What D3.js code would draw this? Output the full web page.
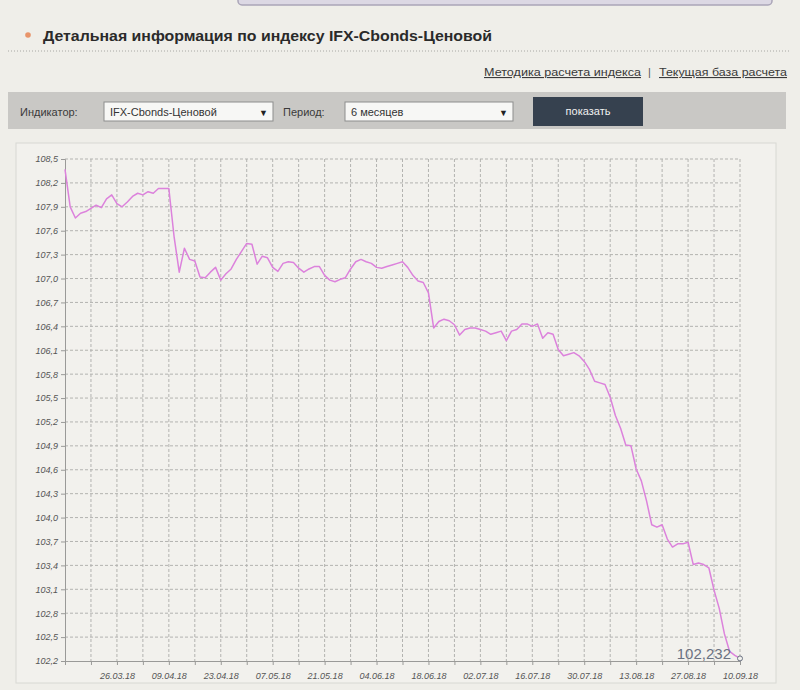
<!DOCTYPE html>
<html><head><meta charset="utf-8">
<script src="https://cdn.jsdelivr.net/npm/d3@7"></script>
<style>
html,body{margin:0;padding:0;background:#efeee9;}
svg{display:block;font-family:"Liberation Sans",Arial,sans-serif;}
</style></head>
<body>
<svg id="c" width="800" height="690"></svg>
<script>
// ---- data ----
const dates = [
 "12.03.18","13.03.18","14.03.18","15.03.18","16.03.18",
 "19.03.18","20.03.18","21.03.18","22.03.18","23.03.18",
 "26.03.18","27.03.18","28.03.18","29.03.18","30.03.18",
 "02.04.18","03.04.18","04.04.18","05.04.18","06.04.18",
 "09.04.18","10.04.18","11.04.18","12.04.18","13.04.18",
 "16.04.18","17.04.18","18.04.18","19.04.18","20.04.18",
 "23.04.18","24.04.18","25.04.18","26.04.18","27.04.18",
 "30.04.18","01.05.18","02.05.18","03.05.18","04.05.18",
 "07.05.18","08.05.18","09.05.18","10.05.18","11.05.18",
 "14.05.18","15.05.18","16.05.18","17.05.18","18.05.18",
 "21.05.18","22.05.18","23.05.18","24.05.18","25.05.18",
 "28.05.18","29.05.18","30.05.18","31.05.18","01.06.18",
 "04.06.18","05.06.18","06.06.18","07.06.18","08.06.18",
 "11.06.18","12.06.18","13.06.18","14.06.18","15.06.18",
 "18.06.18","19.06.18","20.06.18","21.06.18","22.06.18",
 "25.06.18","26.06.18","27.06.18","28.06.18","29.06.18",
 "02.07.18","03.07.18","04.07.18","05.07.18","06.07.18",
 "09.07.18","10.07.18","11.07.18","12.07.18","13.07.18",
 "16.07.18","17.07.18","18.07.18","19.07.18","20.07.18",
 "23.07.18","24.07.18","25.07.18","26.07.18","27.07.18",
 "30.07.18","31.07.18","01.08.18","02.08.18","03.08.18",
 "06.08.18","07.08.18","08.08.18","09.08.18","10.08.18",
 "13.08.18","14.08.18","15.08.18","16.08.18","17.08.18",
 "20.08.18","21.08.18","22.08.18","23.08.18","24.08.18",
 "27.08.18","28.08.18","29.08.18","30.08.18","31.08.18",
 "03.09.18","04.09.18","05.09.18","06.09.18","07.09.18",
 "10.09.18"
];
const values = [
 108.37,107.90,107.76,107.82,107.84,
 107.88,107.92,107.89,108.00,108.05,
 107.94,107.90,107.96,108.03,108.07,
 108.05,108.09,108.07,108.13,108.13,
 108.13,107.53,107.08,107.38,107.24,
 107.22,107.02,107.01,107.08,107.14,
 106.98,107.06,107.12,107.24,107.34,
 107.44,107.43,107.18,107.28,107.26,
 107.14,107.09,107.19,107.21,107.20,
 107.13,107.08,107.12,107.15,107.15,
 107.04,106.98,106.96,106.99,107.01,
 107.12,107.21,107.24,107.21,107.19,
 107.14,107.13,107.15,107.17,107.19,
 107.21,107.14,107.04,106.97,106.95,
 106.82,106.38,106.46,106.49,106.47,
 106.42,106.29,106.36,106.38,106.38,
 106.36,106.34,106.30,106.32,106.34,
 106.22,106.34,106.36,106.43,106.43,
 106.40,106.43,106.25,106.32,106.30,
 106.11,106.03,106.05,106.07,106.03,
 105.96,105.86,105.71,105.69,105.67,
 105.51,105.28,105.12,104.91,104.90,
 104.61,104.46,104.21,103.91,103.88,
 103.91,103.73,103.63,103.67,103.67,
 103.69,103.41,103.43,103.41,103.37,
 103.09,102.86,102.54,102.32,102.27,
 102.232
];
const xTickLabels = ["26.03.18","09.04.18","23.04.18","07.05.18","21.05.18","04.06.18","18.06.18","02.07.18","16.07.18","30.07.18","13.08.18","27.08.18","10.09.18"];
const yTicks = [108.5,108.2,107.9,107.6,107.3,107.0,106.7,106.4,106.1,105.8,105.5,105.2,104.9,104.6,104.3,104.0,103.7,103.4,103.1,102.8,102.5,102.2];
const lastLabel = "102,232";
const title = "Детальная информация по индексу IFX-Cbonds-Ценовой";

const svg = d3.select("#c");

// top box remnant
svg.append("rect").attr("x",238).attr("y",-12).attr("width",534).attr("height",17).attr("rx",4)
  .attr("fill","#dcd8e4").attr("stroke","#aaa5b8").attr("stroke-width",1.5);

// title
svg.append("circle").attr("cx",28).attr("cy",35).attr("r",2.8).attr("fill","#e8946a");
svg.append("text").attr("x",43).attr("y",41).attr("font-size",15).attr("font-weight","bold")
  .attr("fill","#2a2a2a").attr("textLength",449).attr("lengthAdjust","spacingAndGlyphs").text(title);
svg.append("line").attr("x1",8).attr("x2",790).attr("y1",51).attr("y2",51)
  .attr("stroke","#a8a8a4").attr("stroke-dasharray","1,2");

// links
svg.append("text").attr("x",484).attr("y",76).attr("font-size",11).attr("fill","#3a3a3a")
  .attr("text-decoration","underline").attr("textLength",157).attr("lengthAdjust","spacingAndGlyphs").text("Методика расчета индекса");
svg.append("text").attr("x",648).attr("y",76).attr("font-size",11).attr("fill","#555").text("|");
svg.append("text").attr("x",659).attr("y",76).attr("font-size",11).attr("fill","#3a3a3a")
  .attr("text-decoration","underline").attr("textLength",128).attr("lengthAdjust","spacingAndGlyphs").text("Текущая база расчета");

// control bar
svg.append("rect").attr("x",8).attr("y",92).attr("width",778).attr("height",37).attr("fill","#c9c8c5");
svg.append("text").attr("x",20).attr("y",116).attr("font-size",11).attr("fill","#3a3a3a").text("Индикатор:");
svg.append("rect").attr("x",104).attr("y",102).attr("width",169).attr("height",19).attr("fill","#f7f7f5").attr("stroke","#8d8d8d");
svg.append("text").attr("x",110).attr("y",116).attr("font-size",11).attr("fill","#333").text("IFX-Cbonds-Ценовой");
svg.append("text").attr("x",259).attr("y",116).attr("font-size",9).attr("fill","#222").text("▼");
svg.append("text").attr("x",283).attr("y",116).attr("font-size",11).attr("fill","#3a3a3a").text("Период:");
svg.append("rect").attr("x",345).attr("y",102).attr("width",168).attr("height",19).attr("fill","#f7f7f5").attr("stroke","#8d8d8d");
svg.append("text").attr("x",351).attr("y",116).attr("font-size",11).attr("fill","#333").text("6 месяцев");
svg.append("text").attr("x",499).attr("y",116).attr("font-size",9).attr("fill","#222").text("▼");
svg.append("rect").attr("x",533).attr("y",97).attr("width",110).attr("height",29).attr("fill","#36414f");
svg.append("text").attr("x",588).attr("y",115).attr("text-anchor","middle").attr("font-size",11).attr("fill","#f0f0f0").text("показать");

// chart frame
svg.append("rect").attr("x",16).attr("y",143).attr("width",760).attr("height",540).attr("fill","#f2f1ed").attr("stroke","#d8d8d3");

// plot
const m = {left:65, right:740, top:159, bottom:661};
const x = d3.scaleLinear().domain([0, dates.length-1]).range([m.left, m.right]);
const y = d3.scaleLinear().domain([102.2, 108.5]).range([m.bottom, m.top]);

const g = svg.append("g");
// vertical grid every 5 points
const gridIdx = d3.range(0, dates.length, 5);
g.selectAll(".vg").data(gridIdx.slice(1)).join("line")
  .attr("x1",d=>x(d)).attr("x2",d=>x(d)).attr("y1",m.top).attr("y2",m.bottom)
  .attr("stroke","#b3b3b0").attr("stroke-dasharray","3,2").attr("stroke-width",1);
g.selectAll(".hg").data(yTicks.slice(0,-1)).join("line")
  .attr("x1",m.left).attr("x2",m.right).attr("y1",d=>y(d)).attr("y2",d=>y(d))
  .attr("stroke","#b3b3b0").attr("stroke-dasharray","3,2").attr("stroke-width",1);

// axes
const yAxis = d3.axisLeft(y).tickValues(yTicks).tickSize(4).tickPadding(3)
  .tickFormat(d=>d3.format(".1f")(d).replace(".",","));
const ya = svg.append("g").attr("transform",`translate(${m.left},0)`).call(yAxis);
ya.select(".domain").attr("stroke","#9a9a98");
ya.selectAll(".tick line").attr("stroke","#9a9a98");
ya.selectAll("text").attr("font-size",9).attr("fill","#555").attr("font-style","italic");

const labelIdx = xTickLabels.map(l=>dates.indexOf(l));
const xAxis = d3.axisBottom(x).tickValues(gridIdx).tickSize(4).tickPadding(8)
  .tickFormat(d=> labelIdx.includes(d) ? dates[d] : "");
const xa = svg.append("g").attr("transform",`translate(0,${m.bottom})`).call(xAxis);
xa.select(".domain").attr("stroke","#9a9a98");
xa.selectAll(".tick line").attr("stroke","#9a9a98");
xa.selectAll("text").attr("font-size",9).attr("fill","#555").attr("font-style","italic");

// line
const line = d3.line().x((d,i)=>x(i)).y(d=>y(d));
svg.append("path").datum(values).attr("d",line).attr("fill","none")
  .attr("stroke","#dc82dc").attr("stroke-width",1.5).attr("stroke-linejoin","round");

// last value marker and label
const li = values.length-1;
svg.append("text").attr("x",x(li)-9).attr("y",y(values[li])+1).attr("text-anchor","end")
  .attr("font-size",15).attr("fill","#6b7282").text(lastLabel);
svg.append("circle").attr("cx",x(li)).attr("cy",y(values[li])).attr("r",2.5)
  .attr("fill","#f2f1ed").attr("stroke","#6b7282").attr("stroke-width",1);
</script>
</body></html>
